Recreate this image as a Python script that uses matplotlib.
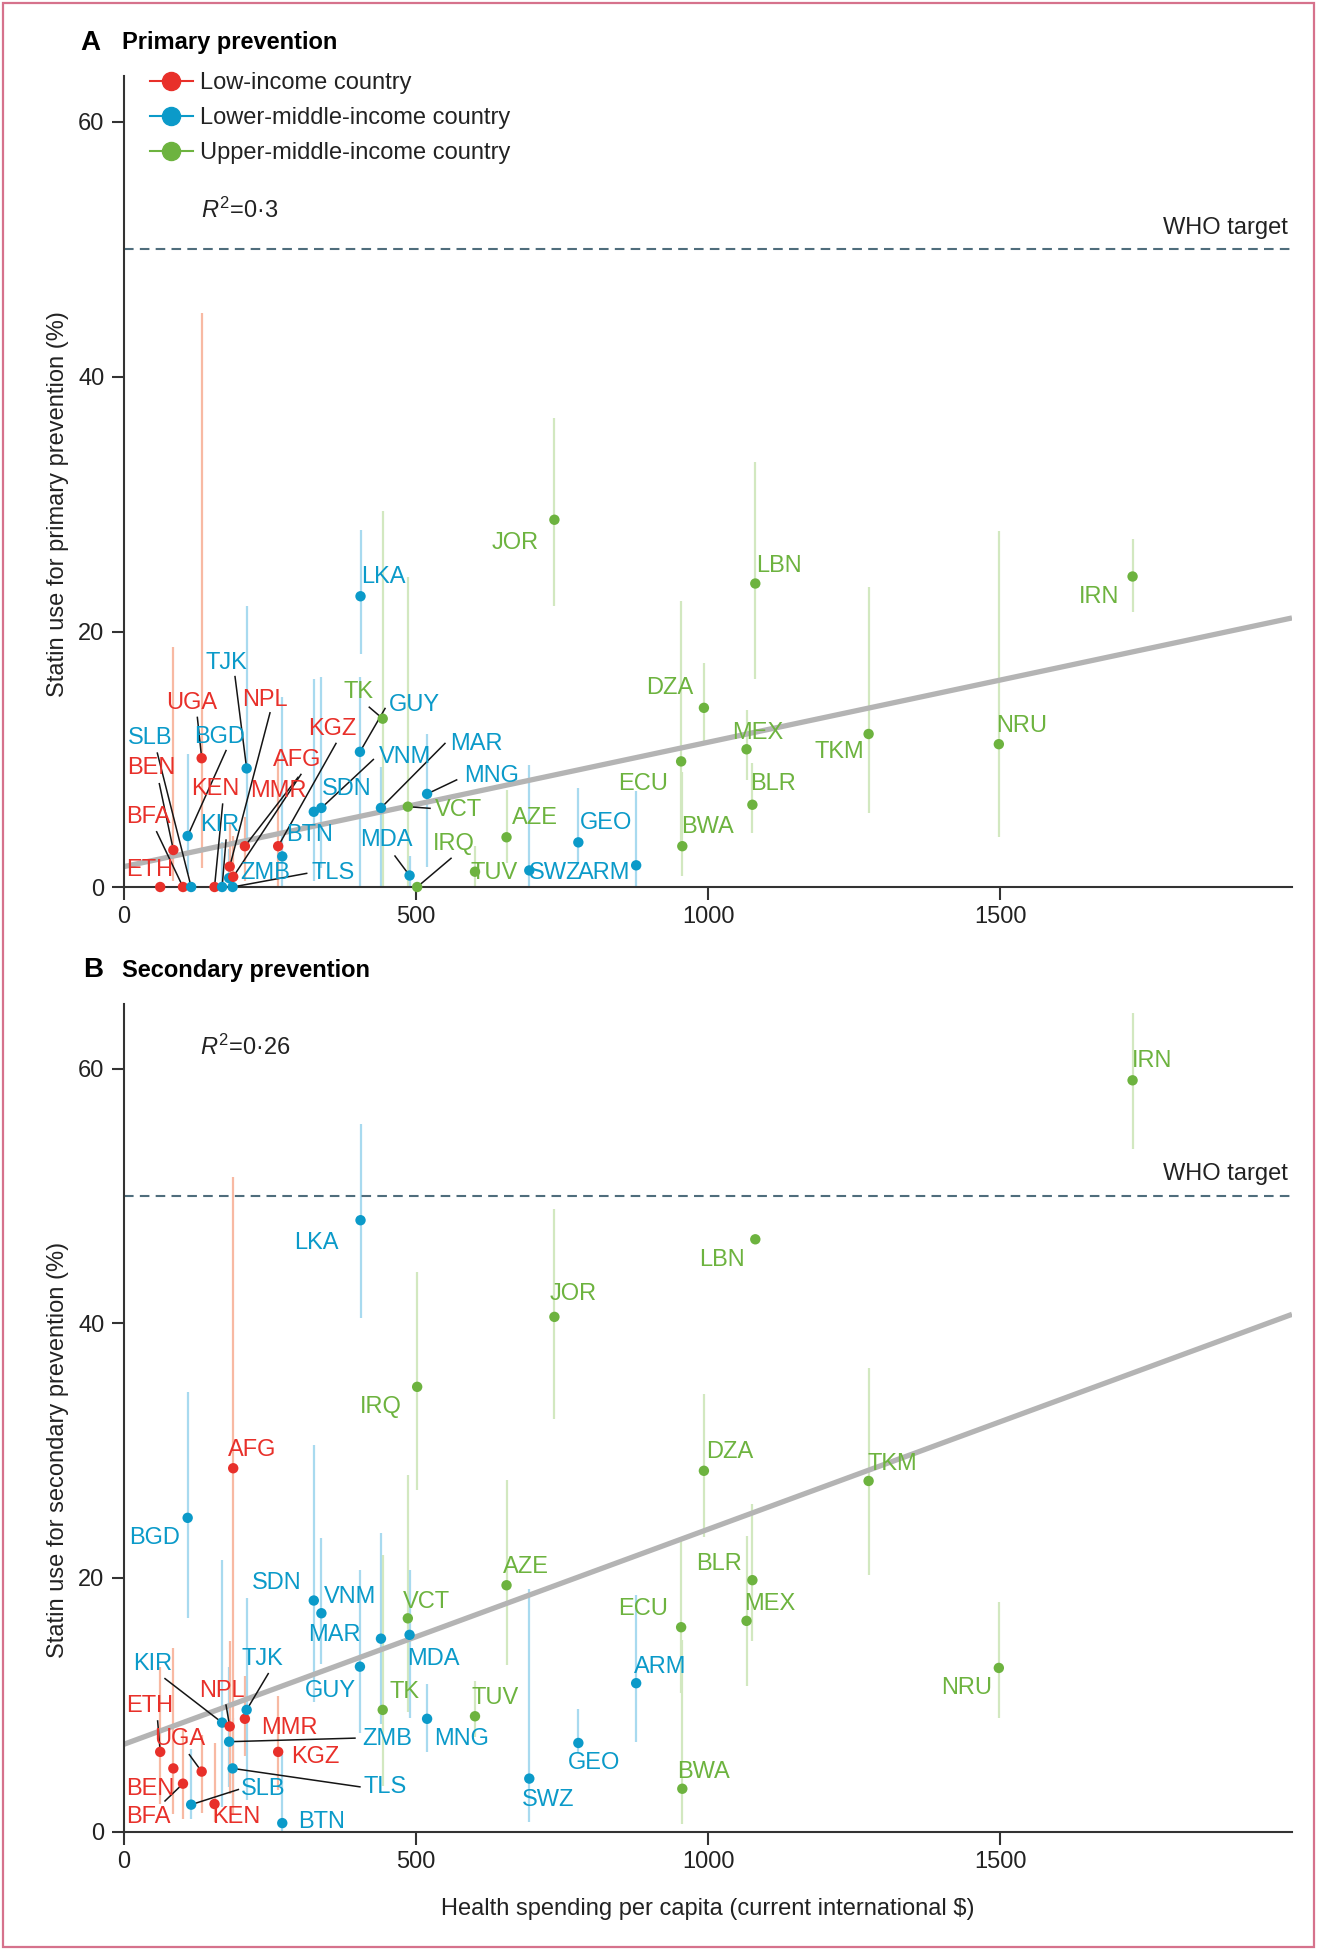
import numpy as np
import matplotlib
matplotlib.use("Agg")
from matplotlib import pyplot as plt
from matplotlib.lines import Line2D
from matplotlib.patches import Rectangle

plt.rcParams['font.family'] = ['Liberation Sans', 'DejaVu Sans']
plt.rcParams['mathtext.fontset'] = 'custom'
plt.rcParams['mathtext.rm'] = 'Liberation Sans'
plt.rcParams['mathtext.it'] = 'Liberation Sans:italic'

# ---- data ----
codes = ["ETH", "BEN", "BFA", "BGD", "SLB", "UGA", "KEN", "KIR", "ZMB", "NPL", "TLS",
         "AFG", "MMR", "TJK", "KGZ", "BTN", "SDN", "VNM", "GUY", "LKA", "MAR", "TK",
         "VCT", "MDA", "IRQ", "MNG", "TUV", "AZE", "SWZ", "JOR", "GEO", "ARM", "ECU",
         "BWA", "DZA", "MEX", "BLR", "LBN", "TKM", "NRU", "IRN"]
income = ["L", "L", "L", "LM", "LM", "L", "L", "LM", "LM", "L", "LM",
          "L", "L", "LM", "L", "LM", "LM", "LM", "LM", "LM", "LM", "UM",
          "UM", "LM", "UM", "LM", "UM", "UM", "LM", "UM", "LM", "LM", "UM",
          "UM", "UM", "UM", "UM", "UM", "UM", "UM", "UM"]
spending = [62, 84.5, 101, 109, 115, 133, 155, 168, 180, 181, 186,
            187, 207, 210, 264, 271, 325, 338, 404, 405, 440, 443,
            486, 489, 502, 519, 601, 655, 694, 737, 778, 877, 954,
            956, 993, 1066, 1076, 1081, 1275, 1498, 1727]

primary = [0, 2.9, 0, 4.0, 0, 10.1, 0, 0, 0.7, 1.6, 0,
           0.8, 3.2, 9.3, 3.2, 2.4, 5.9, 6.2, 10.6, 22.8, 6.2, 13.2,
           6.3, 0.9, 0, 7.3, 1.2, 3.9, 1.3, 28.8, 3.5, 1.7, 9.85,
           3.2, 14.05, 10.8, 6.45, 23.8, 12.0, 11.2, 24.35]
primary_lo = [0, 0.5, 0, 1.0, 0, 1.5, 0, 0, 0, 0, 0,
              0, 0.5, 3.0, 0, 0, 0.5, 1.5, 0, 18.3, 0, 0,
              0, 0, 0, 1.6, 0, 1.9, 0, 22.0, 1.85, 0, 3.5,
              0.9, 11.25, 8.4, 4.2, 16.35, 5.8, 3.9, 21.6]
primary_hi = [0, 18.8, 0, 10.4, 0, 45.0, 0, 3.5, 3.0, 5.0, 0,
              4.0, 5.5, 22.0, 10.2, 14.9, 16.3, 16.5, 16.5, 28.0, 9.4, 29.5,
              24.3, 2.4, 0, 12.0, 3.2, 7.6, 9.6, 36.8, 7.8, 7.5, 22.4,
              9.0, 17.6, 13.9, 9.75, 33.3, 23.5, 27.9, 27.3]

secondary = [6.3, 5.0, 3.8, 24.7, 2.15, 4.75, 2.2, 8.6, 7.1, 8.3, 5.0,
             28.6, 8.9, 9.6, 6.3, 0.7, 18.2, 17.2, 13.0, 48.1, 15.2, 9.6,
             16.8, 15.5, 35.0, 8.9, 9.1, 19.4, 4.2, 40.5, 7.0, 11.7, 16.1,
             3.4, 28.4, 16.6, 19.8, 46.6, 27.6, 12.9, 59.1]
secondary_lo = [2.2, 1.4, 1.0, 16.8, 1.0, 1.5, 0.8, 2.0, 3.5, 3.0, 2.0,
                1.4, 6.0, 2.5, 3.3, 0, 10.2, 13.2, 7.8, 40.4, 8.5, 3.6,
                9.4, 9.0, 26.9, 6.3, 7.5, 13.1, 0.8, 32.5, 6.2, 7.1, 10.9,
                0.6, 23.2, 11.5, 15.0, 46.6, 20.2, 9.0, 53.7]
secondary_hi = [13.0, 14.45, 8.0, 34.6, 6.5, 7.6, 7.0, 21.4, 13.0, 15.0, 9.0,
                51.5, 12.3, 18.4, 10.7, 6.1, 30.4, 23.1, 20.6, 55.7, 23.5, 21.8,
                28.1, 20.6, 44.0, 11.6, 11.85, 27.7, 19.1, 49.0, 9.7, 18.6, 23.2,
                15.1, 34.4, 23.3, 25.8, 46.6, 36.5, 18.1, 64.4]

# fitted lines (intercept, slope) and R2 as printed
fit_primary = (1.6, 0.00975)
fit_secondary = (6.9, 0.0169)
r2_primary = "0·3"
r2_secondary = "0·26"
who_target = 50

group_names = {"L": "Low-income country", "LM": "Lower-middle-income country",
               "UM": "Upper-middle-income country"}
dot_col = {"L": "#e8302a", "LM": "#0b9ac9", "UM": "#6db33f"}
ci_col = {"L": "#f8b9a3", "LM": "#a8daef", "UM": "#d2e8c0"}

# label placement (data coords) and leader-line start points
labels_a = {
    "SLB": (44.5, 11.65), "BEN": (47.4, 9.3), "BFA": (41.7, 5.5), "ETH": (44.5, 1.3),
    "UGA": (116, 14.4), "BGD": (164, 11.8), "TJK": (176, 17.6), "NPL": (241, 14.65),
    "KEN": (156, 7.65), "KIR": (164, 4.85), "MMR": (264, 7.5), "AFG": (296, 9.95),
    "KGZ": (356, 12.4), "ZMB": (241, 1.07), "TLS": (358, 1.07), "BTN": (318.5, 4.1),
    "SDN": (381, 7.65), "LKA": (444, 24.3), "TK": (401, 15.3), "GUY": (498, 14.3),
    "VNM": (481, 10.2), "MAR": (604, 11.25), "MNG": (630, 8.7), "VCT": (572, 6.0),
    "MDA": (450, 3.7), "IRQ": (564, 3.4), "TUV": (634, 1.07), "JOR": (670, 27.0),
    "LBN": (1122, 25.2), "IRN": (1669, 22.75), "DZA": (934, 15.6), "MEX": (1086, 12.1),
    "TKM": (1225, 10.6), "NRU": (1537, 12.6), "ECU": (889, 8.1), "BLR": (1112, 8.1),
    "AZE": (703, 5.4), "GEO": (826, 5.0), "BWA": (999, 4.7), "SWZ": (738, 1.07),
    "ARM": (822, 1.07),
}
leaders_a = {
    "BFA": (55.9, 4.33), "BEN": (60.5, 8.1), "SLB": (57.1, 10.5), "UGA": (125.6, 13.3),
    "BGD": (174.7, 10.7), "TJK": (190.1, 16.5), "NPL": (250, 13.66), "KEN": (168.9, 6.5),
    "KIR": (174.7, 3.68), "AFG": (303, 8.83), "MMR": (298, 8.6), "KGZ": (363, 11.26),
    "TLS": (312.8, 1.07), "TK": (420, 14.1), "GUY": (447, 14.0), "VNM": (427, 10.0),
    "MAR": (549.6, 11.26), "MNG": (569.6, 8.4), "VCT": (524, 6.17), "MDA": (464, 2.43),
    "IRQ": (560, 2.25),
}
labels_b = {
    "IRQ": (440, 33.4), "AFG": (220, 30.0), "BGD": (53, 23.1), "SDN": (261, 19.6),
    "VNM": (387, 18.5), "VCT": (518, 18.1), "AZE": (688, 20.8), "MAR": (361, 15.5),
    "MDA": (530, 13.6), "KIR": (49, 13.2), "TJK": (237.5, 13.6), "GUY": (353, 11.1),
    "TK": (481, 11.0), "NPL": (167, 11.1), "TUV": (635, 10.55), "ETH": (44.5, 9.9),
    "MMR": (284, 8.2), "ZMB": (450, 7.3), "MNG": (578, 7.3), "UGA": (96, 7.3),
    "KGZ": (327, 5.9), "BEN": (44.5, 3.4), "SLB": (238.5, 3.4), "TLS": (447, 3.55),
    "BFA": (41.6, 1.2), "KEN": (193, 1.2), "BTN": (338.5, 0.8), "JOR": (770, 42.3),
    "DZA": (1038, 29.9), "TKM": (1315, 28.9), "BLR": (1019, 21.1), "ECU": (888.5, 17.5),
    "MEX": (1106, 17.95), "ARM": (917.5, 13.0), "NRU": (1443, 11.3), "GEO": (805, 5.4),
    "SWZ": (726, 2.5), "BWA": (992.5, 4.7), "IRN": (1760, 60.6), "LBN": (1024, 45.0),
    "LKA": (330, 46.3),
}
leaders_b = {
    "KIR": (70.2, 12.06), "NPL": (174.7, 9.98), "TJK": (247, 12.45), "ETH": (57.6, 8.73),
    "UGA": (111.9, 6.08), "BFA": (70.2, 2.44), "SLB": (195.8, 3.34), "ZMB": (395.5, 7.38),
    "TLS": (404, 3.55),
}

FS = 17
W, H = 1323, 1950
fig = plt.figure(figsize=(W / 100, H / 100), dpi=100)
fig.patches.append(Rectangle((3 / W, 3 / H), 1311 / W, 1944 / H, transform=fig.transFigure,
                             fill=False, edgecolor="#d6728c", lw=1.6))

axA = fig.add_axes([124 / W, 1 - 887 / H, 1168 / W, 811 / H])
axB = fig.add_axes([124 / W, 1 - 1832 / H, 1168 / W, 828 / H])

x = np.array(spending)
cols = [dot_col[g] for g in income]
cicols = [ci_col[g] for g in income]


def panel(ax, y, lo, hi, fit, labels, leaders, ytop, ylab):
    ax.vlines(x, lo, hi, colors=cicols, lw=1.6, zorder=1)
    ax.axline((0, fit[0]), slope=fit[1], color="#b4b4b4", lw=3.8, zorder=2,
              solid_capstyle="butt")
    ax.axhline(who_target, color="#4f6d7c", lw=1.5, dashes=(4.6, 3.0), zorder=1)
    ax.text(1993, who_target + 1.7, "WHO target", ha="right", va="center",
            fontsize=FS, color="#222222")
    for i, c in enumerate(codes):
        if c in leaders:
            sx, sy = leaders[c]
            ax.plot([sx, x[i]], [sy, y[i]], color="#151515", lw=1.1, zorder=3,
                    clip_on=False)
    ax.scatter(x, y, s=56, c=cols, zorder=4, clip_on=False, linewidths=0)
    for i, c in enumerate(codes):
        lx, ly = labels[c]
        ax.text(lx, ly, c, ha="center", va="center", fontsize=FS,
                color=cols[i], zorder=5)
    ax.set_xlim(0, 2000)
    ax.set_ylim(0, ytop)
    ax.set_xticks([0, 500, 1000, 1500])
    ax.set_yticks([0, 20, 40, 60])
    for s in ["top", "right"]:
        ax.spines[s].set_visible(False)
    for s in ["left", "bottom"]:
        ax.spines[s].set_linewidth(1.5)
        ax.spines[s].set_color("#333333")
    ax.tick_params(direction="out", length=9, width=1.5, color="#333333",
                   labelsize=FS, pad=5, labelcolor="#222222")
    ax.set_ylabel(ylab, fontsize=FS, color="#222222")
    ax.yaxis.set_label_coords(-0.047, 30 / ytop)


panel(axA, primary, primary_lo, primary_hi, fit_primary, labels_a, leaders_a,
      63.6, "Statin use for primary prevention (%)")
panel(axB, secondary, secondary_lo, secondary_hi, fit_secondary, labels_b, leaders_b,
      65.1, "Statin use for secondary prevention (%)")

axA.text(132, 53.1, r"$R^2$=" + r2_primary, fontsize=FS, va="center", color="#222222")
axB.text(130, 61.7, r"$R^2$=" + r2_secondary, fontsize=FS, va="center", color="#222222")

axB.set_xlabel("Health spending per capita (current international $)", fontsize=FS,
               color="#222222")
axB.xaxis.set_label_coords(0.5, -0.08)

# panel titles
fig.text(80 / W, 1 - 43 / H, "A", fontsize=20, fontweight="bold", va="center")
fig.text(122 / W, 1 - 43 / H, "Primary prevention", fontsize=17, fontweight="bold", va="center")
fig.text(83 / W, 1 - 970 / H, "B", fontsize=20, fontweight="bold", va="center")
fig.text(122 / W, 1 - 970 / H, "Secondary prevention", fontsize=17, fontweight="bold", va="center")

handles = [Line2D([0], [0], color=dot_col[g], marker="o", ms=13, lw=1.5)
           for g in ["L", "LM", "UM"]]
axA.legend(handles, [group_names[g] for g in ["L", "LM", "UM"]], loc="upper left",
           bbox_to_anchor=(150 / W, 1 - 72 / H), bbox_transform=fig.transFigure,
           frameon=False, fontsize=FS, handlelength=1.8, handletextpad=0.3,
           labelspacing=0.55, borderpad=0, borderaxespad=0, labelcolor="#222222")

fig.savefig("out.png", dpi=100)
